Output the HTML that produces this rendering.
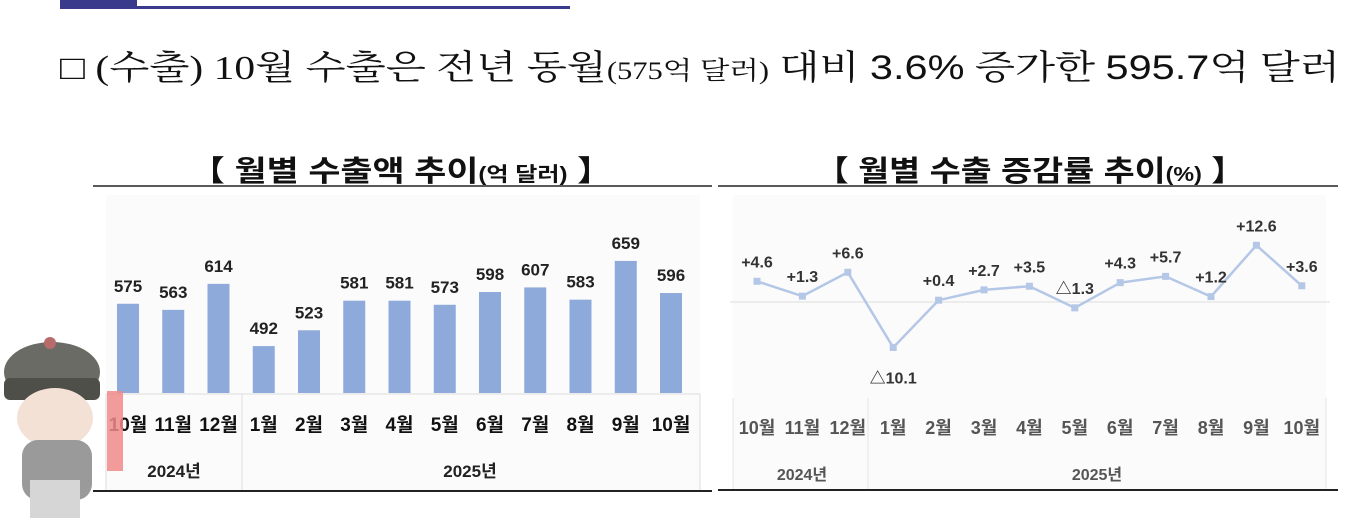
<!DOCTYPE html>
<html><head><meta charset="utf-8">
<style>
html,body{margin:0;padding:0;background:#fff;}
svg{display:block;font-family:"Liberation Sans","Noto Sans CJK KR",sans-serif;}
.serif{font-family:"Liberation Serif","Noto Serif CJK SC",serif;}
</style></head>
<body>
<svg id="page" width="1361" height="518" viewBox="0 0 1361 518" xmlns="http://www.w3.org/2000/svg">
  <rect x="60" y="0" width="77" height="9" fill="#3a3a8c"/>
  <rect x="137" y="6" width="433" height="3" fill="#3a3a8c"/>
  <text class="serif" x="60" y="79" font-size="34" fill="#111" textLength="1280" lengthAdjust="spacingAndGlyphs">□ (수출) 10월 수출은 전년 동월<tspan font-size="25">(575억 달러)</tspan> 대비 <tspan font-family="Liberation Sans, sans-serif">3.6%</tspan> 증가한 <tspan font-family="Liberation Sans, sans-serif">595.7</tspan>억 달러</text>

  <!-- left chart -->
  <g>
    <text x="190" y="181" font-size="29" font-weight="bold" fill="#111" textLength="422" lengthAdjust="spacingAndGlyphs">【 월별 수출액 추이<tspan font-size="20">(억 달러)</tspan> 】</text>
    <line x1="93" y1="186" x2="712" y2="186" stroke="#222" stroke-width="1.5"/>
    <rect x="106" y="195" width="594" height="295" fill="#fbfbfb"/>
    <g id="bars"></g>
    <line x1="106" y1="394" x2="700" y2="394" stroke="#ddd"/>
    <line x1="106" y1="394" x2="106" y2="490" stroke="#ddd"/>
    <line x1="242" y1="394" x2="242" y2="490" stroke="#ddd"/>
    <line x1="700" y1="394" x2="700" y2="490" stroke="#ddd"/>
    <g id="barcats"></g>
    <text x="174" y="477" text-anchor="middle" font-size="17" font-weight="bold" fill="#222">2024년</text>
    <text x="470" y="477" text-anchor="middle" font-size="17" font-weight="bold" fill="#222">2025년</text>
    <line x1="93" y1="491" x2="712" y2="491" stroke="#222" stroke-width="2"/>
  </g>

  <!-- right chart -->
  <g>
    <text x="815" y="181" font-size="29" font-weight="bold" fill="#111" textLength="430" lengthAdjust="spacingAndGlyphs">【 월별 수출 증감률 추이<tspan font-size="20">(%)</tspan> 】</text>
    <line x1="718" y1="186" x2="1338" y2="186" stroke="#222" stroke-width="1.5"/>
    <rect x="733" y="195" width="593" height="295" fill="#fbfbfb"/>
    <line x1="730" y1="302" x2="1330" y2="302" stroke="#e3e3e3" stroke-width="1.2"/>
    <g id="line"></g>
    <line x1="733" y1="398" x2="733" y2="490" stroke="#e5e5e5"/>
    <line x1="868" y1="398" x2="868" y2="490" stroke="#e5e5e5"/>
    <line x1="1326" y1="398" x2="1326" y2="490" stroke="#e5e5e5"/>
    <g id="linecats"></g>
    <text x="802" y="480" text-anchor="middle" font-size="16" font-weight="bold" fill="#555">2024년</text>
    <text x="1097" y="480" text-anchor="middle" font-size="16" font-weight="bold" fill="#555">2025년</text>
    <line x1="718" y1="490" x2="1338" y2="490" stroke="#222" stroke-width="2"/>
  </g>

  <!-- mascot approximation -->
  <g>
    <ellipse cx="52" cy="372" rx="48" ry="30" fill="#6b6b66"/>
    <rect x="4" y="378" width="96" height="22" rx="6" fill="#4f4f4a"/>
    <circle cx="50" cy="343" r="6" fill="#b76b6b"/>
    <ellipse cx="55" cy="418" rx="38" ry="30" fill="#f3e1d6"/>
    <rect x="22" y="440" width="70" height="60" rx="16" fill="#9a9a9a"/>
    <rect x="30" y="480" width="50" height="38" fill="#d6d6d6"/>
    <rect x="107" y="391" width="16" height="80" fill="#f08a8a" opacity="0.85"/>
  </g>

<script>
const barCats = ["10월","11월","12월","1월","2월","3월","4월","5월","6월","7월","8월","9월","10월"];
const exportValues = [575,563,614,492,523,581,581,573,598,607,583,659,596];
const growthValues = [4.6,1.3,6.6,-10.1,0.4,2.7,3.5,-1.3,4.3,5.7,1.2,12.6,3.6];
const growthLabels = ["+4.6","+1.3","+6.6","△10.1","+0.4","+2.7","+3.5","△1.3","+4.3","+5.7","+1.2","+12.6","+3.6"];

const NS="http://www.w3.org/2000/svg";
function mk(tag, attrs, parent){const e=document.createElementNS(NS,tag);for(const k in attrs)e.setAttribute(k,attrs[k]);parent.appendChild(e);return e;}

const bx = i => 128 + i*45.25;
const by = v => 393 - (v-400)*0.51;
const bars=document.getElementById('bars'), bcats=document.getElementById('barcats');
exportValues.forEach((v,i)=>{
  const r=mk('rect',{x:bx(i)-11,y:by(v),width:22,height:393-by(v),fill:'#8eaadb'},bars);
  
  
  const t=mk('text',{x:bx(i),y:by(v)-12,'text-anchor':'middle','font-size':17,'font-weight':'bold',fill:'#222'},bars);
  t.textContent=v;
  
  
});
barCats.forEach((c,i)=>{
  const t=mk('text',{x:bx(i),y:431,'text-anchor':'middle','font-size':19,'font-weight':'bold',fill:'#111'},bcats);
  t.textContent=c;
  
  
});

const lx = i => 757 + i*45.4;
const ly = v => 302 - v*4.5;
const lg=document.getElementById('line'), lcats=document.getElementById('linecats');
const pts=growthValues.map((v,i)=>lx(i)+','+ly(v)).join(' ');
const pl=mk('polyline',{points:pts,fill:'none',stroke:'#b4c7e7','stroke-width':2.5},lg);


growthValues.forEach((v,i)=>{
  const m=mk('rect',{x:lx(i)-3.5,y:ly(v)-3.5,width:7,height:7,fill:'#b4c7e7'},lg);
  
  
  const below = v < -5;
  const t=mk('text',{x:lx(i),y:below?ly(v)+36:ly(v)-14,'text-anchor':'middle','font-size':16,'font-weight':'bold',fill:'#333'},lg);
  t.textContent=growthLabels[i];
  
  
});
barCats.forEach((c,i)=>{
  const t=mk('text',{x:lx(i),y:434,'text-anchor':'middle','font-size':18,'font-weight':'bold',fill:'#555'},lcats);
  t.textContent=c;
  
  
});
</script>
</svg>
</body></html>
